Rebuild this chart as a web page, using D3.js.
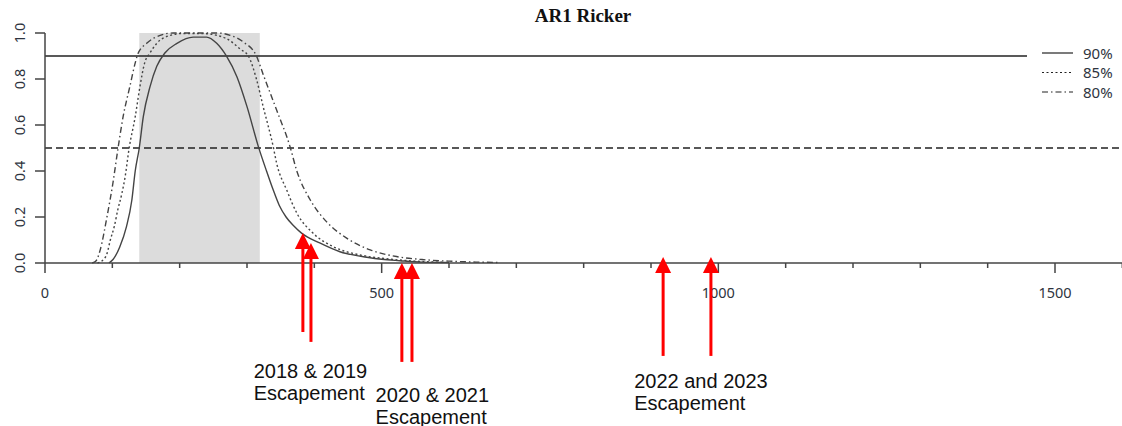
<!DOCTYPE html>
<html><head><meta charset="utf-8">
<script src="https://cdn.jsdelivr.net/npm/d3@7"></script>
<style>html,body{margin:0;padding:0;background:#fff;} svg{display:block;}</style>
</head><body>
<svg id="c" width="1122" height="426"></svg>
<script>
// ---- data ----
const title = "AR1 Ricker";
const xTicksMajor = [0, 500, 1000, 1500];
const xTicksMinor = [100, 200, 300, 400, 600, 700, 800, 900, 1100, 1200, 1300, 1400, 1600];
const yTicks = [0, 0.2, 0.4, 0.6, 0.8, 1.0];
const shadeRange = [140, 319];
const refLines = [0.9, 0.5];
const seriesNames = ["90%", "85%", "80%"];

const p90 = [[95,0],[101,0.015],[111,0.07],[121,0.158],[129,0.274],[134,0.40],[140,0.5],[146,0.636],[156,0.767],[166,0.855],[178,0.913],[196,0.955],[220,0.982],[240,0.982],[255,0.955],[270,0.897],[285,0.81],[300,0.68],[317,0.505],[329,0.40],[339,0.317],[348,0.25],[358,0.2],[370,0.16],[381,0.13],[408,0.087],[438,0.049],[478,0.025],[500,0.016],[527,0.01],[560,0.004],[600,0.002]];
const p85 = [[78,0],[85,0.01],[92,0.04],[97,0.1],[103,0.16],[108,0.23],[114,0.3],[119,0.375],[125,0.5],[134,0.636],[141,0.767],[148,0.87],[156,0.913],[166,0.955],[186,0.99],[205,0.998],[240,0.997],[255,0.99],[270,0.975],[290,0.93],[302,0.9],[314,0.8],[324,0.68],[339,0.505],[344,0.434],[359,0.317],[374,0.217],[398,0.13],[428,0.071],[468,0.035],[512,0.017],[550,0.008],[590,0.003]];
const p80 = [[70,0],[76,0.01],[82,0.057],[92,0.2],[101,0.35],[108,0.49],[116,0.636],[126,0.767],[134,0.87],[138,0.91],[151,0.955],[171,0.99],[190,1.0],[255,1.0],[275,0.99],[295,0.96],[314,0.9],[324,0.82],[344,0.665],[364,0.505],[374,0.40],[394,0.274],[418,0.18],[448,0.108],[483,0.057],[522,0.028],[560,0.015],[600,0.008],[640,0.004],[675,0.002]];

const arrowX = [383, 395, 530, 545, 918, 989];
const arrowTip = [0.13, 0.087, 0.0, 0.0, 0.026, 0.026];
const arrowBase = [-0.30, -0.343, -0.43, -0.43, -0.404, -0.404];
const labels = [
  {x: 310, lines: ["2018 & 2019", "Escapement"], dy: 115},
  {x: 491, lines: ["2020 & 2021", "Escapement"], dy: 138.5},
  {x: 875, lines: ["2022 and 2023", "Escapement"], dy: 125}
];

// ---- drawing ----
const svg = d3.select("#c");
const x = d3.scaleLinear().domain([0, 1500]).range([45, 1055]);
const y = d3.scaleLinear().domain([0, 1]).range([263, 33]);
const axisCol = "#444", txtCol = "#2e3440";

// shaded region
svg.append("rect").attr("x", x(shadeRange[0])).attr("y", y(1))
  .attr("width", x(shadeRange[1]) - x(shadeRange[0])).attr("height", y(0) - y(1))
  .attr("fill", "#dcdcdc");

// reference lines
svg.append("line").attr("x1", x(0)).attr("x2", 1122).attr("y1", y(refLines[0])).attr("y2", y(refLines[0]))
  .attr("stroke", "#222").attr("stroke-width", 1.3);
svg.append("line").attr("x1", x(0)).attr("x2", 1122).attr("y1", y(refLines[1])).attr("y2", y(refLines[1]))
  .attr("stroke", "#222").attr("stroke-width", 1.3).attr("stroke-dasharray", "7,4");

// curves
const line = d3.line().x(d => x(d[0])).y(d => y(d[1])).curve(d3.curveMonotoneX);
const styles = [null, "2,2.5", "6,3,1.5,3"];
[p90, p85, p80].forEach((s, i) => {
  svg.append("path").attr("d", line(s)).attr("fill", "none")
    .attr("stroke", "#444").attr("stroke-width", 1.4)
    .attr("stroke-dasharray", styles[i]);
});

// x axis
const xAx = svg.append("g").attr("transform", `translate(0,${y(0)})`);
xAx.append("line").attr("x1", x(0)).attr("x2", 1122).attr("stroke", axisCol).attr("stroke-width", 1.5);
xAx.selectAll(".mj").data(xTicksMajor).join("line").attr("x1", d => x(d)).attr("x2", d => x(d))
  .attr("y1", 0).attr("y2", 10).attr("stroke", axisCol).attr("stroke-width", 1.5);
xAx.selectAll(".mn").data(xTicksMinor).join("line").attr("x1", d => x(d)).attr("x2", d => x(d))
  .attr("y1", 0).attr("y2", 5).attr("stroke", axisCol).attr("stroke-width", 1.5);
xAx.selectAll("text").data(xTicksMajor).join("text").attr("x", d => x(d)).attr("y", 35)
  .attr("text-anchor", "middle").attr("font-family", "Noto Sans, DejaVu Sans, sans-serif")
  .attr("font-size", 14.5).attr("fill", txtCol).text(d => d);

// y axis
const yAx = svg.append("g");
yAx.append("line").attr("x1", x(0)).attr("x2", x(0)).attr("y1", y(0)).attr("y2", y(1))
  .attr("stroke", axisCol).attr("stroke-width", 1.5);
yAx.selectAll(".t").data(yTicks).join("line").attr("x1", x(0) - 10).attr("x2", x(0))
  .attr("y1", d => y(d)).attr("y2", d => y(d)).attr("stroke", axisCol).attr("stroke-width", 1.5);
yAx.selectAll("text").data(yTicks).join("text")
  .attr("transform", d => `translate(25,${y(d)}) rotate(-90)`)
  .attr("text-anchor", "middle").attr("font-family", "Noto Sans, DejaVu Sans, sans-serif")
  .attr("font-size", 14.5).attr("fill", txtCol).text(d => d.toFixed(1));

// title
svg.append("text").attr("x", 583).attr("y", 22).attr("text-anchor", "middle")
  .attr("font-family", "Liberation Serif, serif").attr("font-weight", "bold")
  .attr("font-size", 19).attr("fill", "#111").text(title);

// legend
const lg = svg.append("g");
lg.append("rect").attr("x", 1027).attr("y", 40).attr("width", 95).attr("height", 62).attr("fill", "#fff");
seriesNames.forEach((n, i) => {
  const yy = 53 + i * 19.5;
  lg.append("line").attr("x1", 1042).attr("x2", 1073).attr("y1", yy).attr("y2", yy)
    .attr("stroke", "#222").attr("stroke-width", 1.2).attr("stroke-dasharray", styles[i]);
  lg.append("text").attr("x", 1083).attr("y", yy + 5.5).attr("font-family", "Noto Sans, DejaVu Sans, sans-serif")
    .attr("font-size", 15).attr("fill", txtCol).text(n);
});

// arrows
const ag = svg.append("g");
arrowX.forEach((v, i) => {
  const px = x(v), tip = y(arrowTip[i]), base = y(arrowBase[i]);
  ag.append("line").attr("x1", px).attr("x2", px).attr("y1", tip + 12).attr("y2", base)
    .attr("stroke", "#ff0000").attr("stroke-width", 3);
  ag.append("path").attr("d", `M${px},${tip} L${px - 8},${tip + 16} L${px + 8},${tip + 16} Z`)
    .attr("fill", "#ff0000");
});

// labels
labels.forEach(l => {
  const t = svg.append("text").attr("font-family", "Liberation Sans, Arial, sans-serif")
    .attr("font-size", 20).attr("fill", "#111");
  l.lines.forEach((s, j) => {
    t.append("tspan").attr("x", x(l.x)).attr("y", y(0) + l.dy + j * 22).text(s);
  });
});
</script>
</body></html>
